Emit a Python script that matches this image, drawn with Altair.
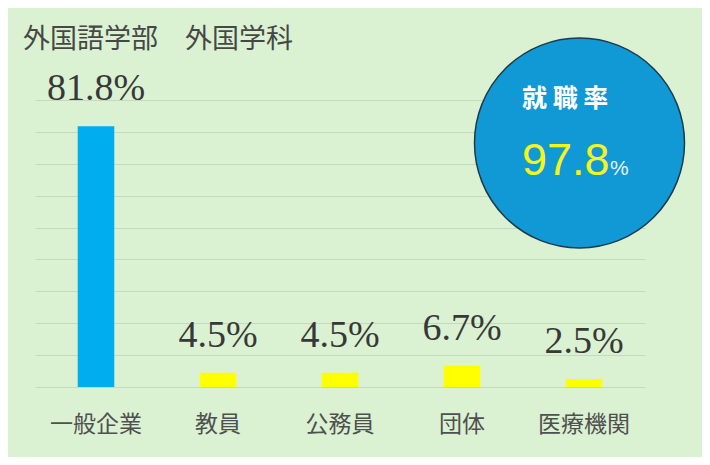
import altair as alt
import pandas as pd

# ---- data ----
categories = ["一般企業", "教員", "公務員", "団体", "医療機関"]
values = [81.8, 4.5, 4.5, 6.7, 2.5]
bar_colors = ["#00aeef", "#ffff00", "#ffff00", "#ffff00", "#ffff00"]
title_text = "外国語学部　外国学科"
kpi_label = "就 職 率"
kpi_value = "97.8"
kpi_unit = "%"
grid_values = [0, 10, 20, 30, 40, 50, 60, 70, 80, 90]

df = pd.DataFrame({
    "cat": categories,
    "val": values,
    "color": bar_colors,
    "label": [f"{v}%" for v in values],
})

x = alt.X("cat:N", sort=categories,
          scale=alt.Scale(paddingInner=0.7, paddingOuter=0.35),
          axis=alt.Axis(title=None, labelAngle=0, domain=False, ticks=False,
                        tickSize=0, labelPadding=37, labelBaseline="middle",
                        labelFont="Noto Sans CJK JP", labelFontSize=23,
                        labelColor="#505050"))
y = alt.Y("val:Q", scale=alt.Scale(domain=[0, 90], nice=False),
          axis=alt.Axis(title=None, labels=False, domain=False, ticks=False,
                        values=grid_values, grid=True, gridColor="#c6d8c0",
                        gridWidth=1.2))

base = alt.Chart(df)
bars = base.mark_bar().encode(x=x, y=y, color=alt.Color("color:N", scale=None, legend=None))
labels = base.mark_text(baseline="alphabetic", dy=-26, font="Liberation Serif",
                        fontSize=38, color="#383838").encode(x=x, y=y, text="label:N")

title = alt.Chart(pd.DataFrame({"t": [title_text]})).mark_text(
    align="left", baseline="middle", font="Noto Sans CJK JP", fontSize=27,
    color="#474747").encode(text="t:N", x=alt.value(-12), y=alt.value(-60))

circle = alt.Chart(pd.DataFrame({"k": [kpi_value]})).mark_point(
    shape="circle", filled=True, size=44100, fill="#1199d6", stroke="#1d3b4b",
    strokeWidth=1.5, opacity=1, fillOpacity=1).encode(x=alt.value(544.5), y=alt.value(43))

kpi_l = alt.Chart(pd.DataFrame({"t": [kpi_label]})).mark_text(
    align="left", baseline="middle", font="Noto Sans CJK JP", fontSize=25,
    fontWeight="bold", color="#ffffff").encode(text="t:N", x=alt.value(487), y=alt.value(-1))

kpi_v = alt.Chart(pd.DataFrame({"t": [kpi_value]})).mark_text(
    align="left", baseline="alphabetic", font="Liberation Sans", fontSize=45,
    color="#f5f51e").encode(text="t:N", x=alt.value(487), y=alt.value(75))

kpi_u = alt.Chart(pd.DataFrame({"t": [kpi_unit]})).mark_text(
    align="left", baseline="alphabetic", font="Liberation Sans", fontSize=21,
    color="#e8f4fa").encode(text="t:N", x=alt.value(575), y=alt.value(75))

chart = alt.layer(bars, labels, title, circle, kpi_l, kpi_v, kpi_u).properties(
    width=610, height=287,
    padding={"left": 27, "top": 92, "right": 57, "bottom": 70},
    autosize="none",
    background="#daf2d2",
).configure_view(stroke=None)

chart.save("out.html", embed_options={"renderer": "svg", "actions": False})
